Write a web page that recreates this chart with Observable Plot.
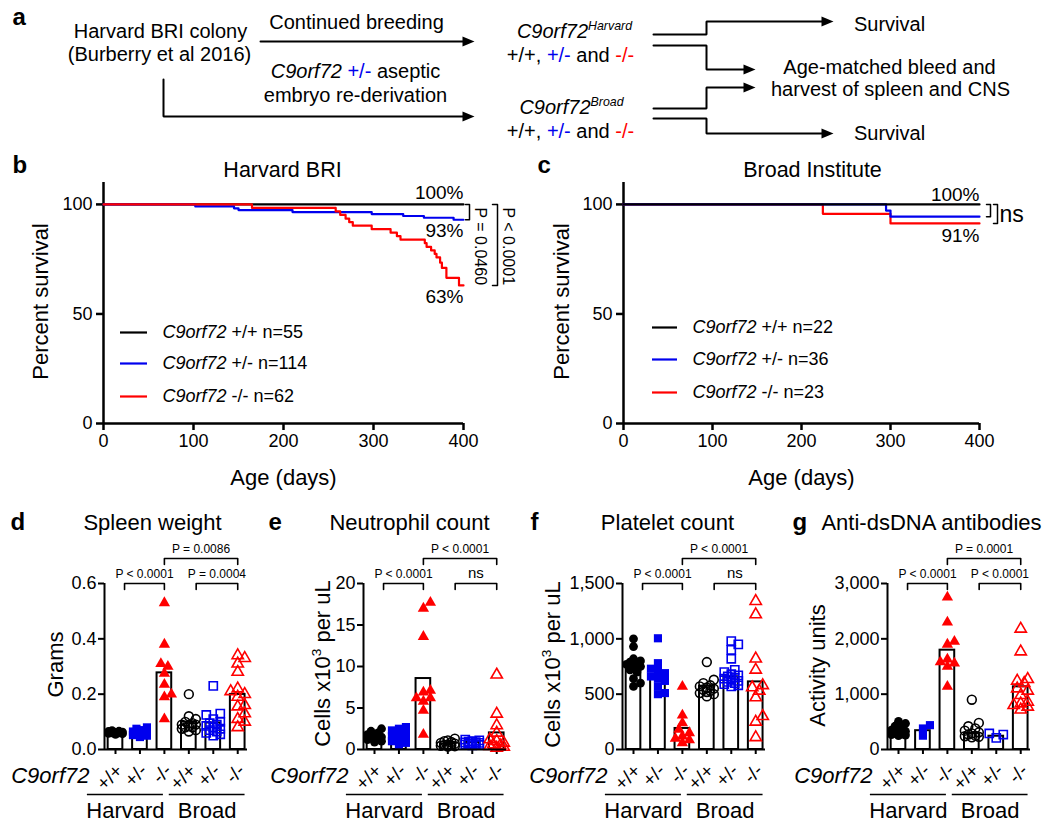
<!DOCTYPE html>
<html><head><meta charset="utf-8">
<script src="https://cdn.jsdelivr.net/npm/d3@7"></script>
<script src="https://cdn.jsdelivr.net/npm/@observablehq/plot@0.6"></script>
<style>
html,body{margin:0;padding:0;background:#fff;}
#fig{position:relative;width:1050px;height:828px;overflow:hidden;background:#fff;}
#fig svg{position:absolute;overflow:visible;}
</style></head><body><div id="fig"></div>
<script>
// ---------------- DATA ----------------
// Panel b: Harvard BRI survival (Kaplan-Meier steps)
const harvardWTDays  = [0, 400];
const harvardWTSurv  = [100, 100];
const harvardHetDays = [0, 102, 145, 150, 210, 298, 333, 356, 389, 400];
const harvardHetSurv = [100, 99.1, 98.2, 97.4, 96.5, 95.6, 94.7, 93.9, 93.0, 93.0];
const harvardKODays  = [0, 165, 258, 263, 269, 273, 277, 298, 319, 326, 330, 357, 359, 364, 368, 370, 374, 376, 381, 395, 400];
const harvardKOSurv  = [100, 98.4, 96.8, 95.2, 93.5, 91.9, 90.3, 88.7, 87.1, 85.5, 83.9, 82.3, 80.6, 79.0, 77.4, 75.8, 73.4, 71.0, 66.5, 63.0, 63.0];
const harvardLegend  = ["C9orf72 +/+ n=55", "C9orf72 +/- n=114", "C9orf72 -/- n=62"];
const harvardEndLabels = ["100%", "93%", "63%"];
const harvardPValues = ["P = 0.0460", "P < 0.0001"];

// Panel c: Broad Institute survival
const broadWTDays  = [0, 400];
const broadWTSurv  = [100, 100];
const broadHetDays = [0, 295, 300, 400];
const broadHetSurv = [100, 97.2, 94.4, 94.4];
const broadKODays  = [0, 224, 300, 400];
const broadKOSurv  = [100, 95.7, 91.3, 91.3];
const broadLegend  = ["C9orf72 +/+ n=22", "C9orf72 +/- n=36", "C9orf72 -/- n=23"];
const broadEndLabels = ["100%", "91%"];

// Panels d-g: groups
const genotypes = ["+/+", "+/-", "-/-", "+/+", "+/-", "-/-"];
const colonies  = ["Harvard", "Broad"];

const spleenPoints = [
  [0.055, 0.057, 0.058, 0.060, 0.060, 0.062, 0.063, 0.065, 0.066, 0.068],
  [0.045, 0.050, 0.052, 0.055, 0.058, 0.060, 0.062, 0.065, 0.070, 0.075, 0.080],
  [0.53, 0.38, 0.30, 0.31, 0.275, 0.235, 0.20, 0.19, 0.11],
  [0.20, 0.12, 0.11, 0.10, 0.095, 0.09, 0.09, 0.085, 0.08, 0.08, 0.075, 0.07, 0.065],
  [0.23, 0.13, 0.125, 0.11, 0.10, 0.095, 0.09, 0.085, 0.08, 0.075, 0.07, 0.065, 0.06, 0.055, 0.05],
  [0.34, 0.33, 0.31, 0.28, 0.22, 0.21, 0.20, 0.19, 0.16, 0.155, 0.13, 0.11, 0.10, 0.08]
];
const spleenBars = [0.060, 0.060, 0.277, 0.099, 0.096, 0.199];
const spleenP = ["P < 0.0001", "P = 0.0004", "P = 0.0086"];

const neutrophilPoints = [
  [2.5, 2.2, 2.0, 1.8, 1.6, 1.5, 1.4, 1.3, 1.2, 1.0, 0.9],
  [2.7, 2.5, 2.3, 2.0, 1.8, 1.6, 1.4, 1.2, 1.0, 0.8, 0.6],
  [17.7, 17.0, 13.6, 7.1, 6.9, 6.2, 6.2, 5.8, 4.7, 1.8],
  [1.3, 1.1, 1.0, 0.9, 0.8, 0.7, 0.6, 0.55, 0.5, 0.45, 0.4, 0.35],
  [1.2, 1.1, 1.0, 0.95, 0.9, 0.85, 0.8, 0.75, 0.7, 0.65, 0.6, 0.55, 0.5],
  [9.0, 4.3, 2.9, 2.0, 1.2, 1.0, 0.8, 0.6, 0.5, 0.4, 0.3, 0.2]
];
const neutrophilBars = [1.7, 1.65, 8.55, 0.65, 0.85, 2.0];
const neutrophilP = ["P < 0.0001", "ns", "P < 0.0001"];

const plateletPoints = [
  [1000, 930, 820, 800, 790, 780, 770, 760, 750, 720, 700, 640, 600, 570],
  [1005, 780, 730, 710, 690, 660, 640, 620, 570, 510, 500],
  [570, 310, 240, 180, 150, 120, 100, 85, 60],
  [790, 630, 600, 580, 570, 560, 550, 540, 530, 520, 510, 500, 480],
  [980, 950, 900, 820, 720, 700, 680, 670, 660, 650, 640, 630, 620, 610, 600, 590, 580, 570],
  [1340, 1220, 820, 720, 580, 560, 530, 470, 300, 250, 110]
];
const plateletBars = [777, 672, 190, 572, 657, 611];
const plateletP = ["P < 0.0001", "ns", "P < 0.0001"];

const dsDNAPoints = [
  [510, 470, 420, 380, 350, 330, 310, 290, 280, 270, 260, 250],
  [440, 380, 250],
  [2750, 2300, 1950, 1900, 1630, 1580, 1560, 1500, 1140],
  [900, 480, 420, 380, 340, 310, 290, 270, 250, 240, 230, 220],
  [210, 290, 270],
  [2180, 1770, 1270, 1240, 1200, 1100, 1060, 980, 860, 830, 800, 770, 720]
];
const dsDNABars = [320, 340, 1795, 290, 240, 1133];
const dsDNAP = ["P < 0.0001", "P < 0.0001", "P = 0.0001"];

// ---------------- STYLE / LAYOUT ----------------
const FONT = "'Liberation Sans', Arial, Helvetica, sans-serif";
const BLUE = "#0000ee", RED = "#ff0000", BLACK = "#000000";
const genotypeColor = [BLACK, BLUE, RED];
const groupColor  = [BLACK, BLUE, RED, BLACK, BLUE, RED];
const groupSymbol = ["circle", "square", "triangle", "circle", "square", "triangle"];
const groupFilled = [true, true, true, false, false, false];
const fig = document.getElementById("fig");
const baseStyle = {fontFamily: FONT, background: "transparent", overflow: "visible", color: "#000"};

const RICH = {
  "C9orf72 +/- aseptic": [["C9orf72", {italic: 1}], [" "], ["+/-", {fill: BLUE}], [" aseptic"]],
  "+/+, +/- and -/-": [["+/+, "], ["+/-", {fill: BLUE}], [" and "], ["-/-", {fill: RED}]],
  "C9orf72Harvard": [["C9orf72", {italic: 1}], ["Harvard", {italic: 1, sup: 1}]],
  "C9orf72Broad": [["C9orf72", {italic: 1}], ["Broad", {italic: 1, sup: 1}]],
  "Cells x103 per uL": [["Cells x10"], ["3", {sup: 1}], [" per uL"]]
};
[...harvardLegend, ...broadLegend].forEach(s => { RICH[s] = [["C9orf72", {italic: 1}], [s.slice(7)]]; });

function richify(svg) {
  d3.select(svg).selectAll("text").each(function () {
    const parts = RICH[this.textContent];
    if (!parts) return;
    const fs = parseFloat(getComputedStyle(this).fontSize) || 20;
    const el = d3.select(this);
    el.text(null);
    let shifted = 0;
    for (const [s, o = {}] of parts) {
      const t = el.append("tspan").text(s);
      if (o.italic) t.attr("font-style", "italic");
      if (o.fill) t.attr("fill", o.fill);
      if (o.sup) { t.attr("font-size", (fs * 0.62) + "px").attr("dy", -fs * 0.4); shifted = fs * 0.4; }
      else if (shifted) { t.attr("dy", shifted); shifted = 0; }
    }
  });
}
function place(svg, left, top) {
  svg.style.left = left + "px";
  svg.style.top = top + "px";
  fig.appendChild(svg);
  richify(svg);
}

// ---------------- PANEL a (flow diagram) ----------------
const diagramTexts = [
  {t: "a", x: 12, y: 24, anchor: "start", bold: true, size: 24},
  {t: "Harvard BRI colony", x: 160, y: 37},
  {t: "(Burberry et al 2016)", x: 159, y: 60},
  {t: "Continued breeding", x: 356, y: 28},
  {t: "C9orf72 +/- aseptic", x: 355, y: 77},
  {t: "embryo re-derivation", x: 355, y: 101},
  {t: "C9orf72Harvard", x: 574, y: 37},
  {t: "+/+, +/- and -/-", x: 570, y: 61},
  {t: "C9orf72Broad", x: 571, y: 113},
  {t: "+/+, +/- and -/-", x: 570, y: 137},
  {t: "Survival", x: 889, y: 30},
  {t: "Age-matched bleed and", x: 889, y: 73},
  {t: "harvest of spleen and CNS", x: 890, y: 95},
  {t: "Survival", x: 889, y: 139}
];
const connectors = [
  [[260, 41], [474, 41]],
  [[163, 79], [163, 116], [474, 116]],
  [[653, 34], [706, 34], [706, 21], [833, 21]],
  [[653, 45], [706, 45], [706, 69], [755, 69]],
  [[653, 108], [706, 108], [706, 87], [755, 87]],
  [[653, 118], [706, 118], [706, 133], [833, 133]]
];
{
  const linePts = [], headPts = [];
  connectors.forEach((c, k) => {
    c.forEach((p, j) => {
      const last = j === c.length - 1;
      linePts.push({id: k, x: last ? p[0] - 6 : p[0], y: p[1]});
    });
    const [ex, ey] = c[c.length - 1];
    headPts.push({id: k, x: ex, y: ey}, {id: k, x: ex - 12, y: ey - 5}, {id: k, x: ex - 12, y: ey + 5});
  });
  const marks = [
    Plot.line(linePts, {x: "x", y: "y", z: "id", stroke: "black", strokeWidth: 2, strokeLinejoin: "miter"}),
    Plot.line(headPts, {x: "x", y: "y", z: "id", fill: "black", stroke: "none"})
  ];
  diagramTexts.forEach(d => marks.push(Plot.text([d], {
    x: "x", y: "y", text: "t", textAnchor: d.anchor || "middle", lineAnchor: "bottom",
    fontSize: d.size || 20, fontWeight: d.bold ? "bold" : "normal"
  })));
  const svg = Plot.plot({
    width: 1050, height: 150, margin: 0, style: baseStyle,
    x: {domain: [0, 1050], range: [0, 1050], axis: null},
    y: {domain: [0, 150], range: [0, 150], axis: null},
    marks
  });
  place(svg, 0, 0);
}

// ---------------- PANELS b, c (survival) ----------------
function survivalPanel(o) {
  const top = 150, H = 345, topY = 182, bottomY = 423;
  const W = o.width;
  const mL = o.frameLeft - o.left, mR = o.left + W - o.frameRight;
  const mT = topY - top, mB = top + H - bottomY;
  const plotW = o.frameRight - o.frameLeft, plotH = bottomY - topY;
  const xu = px => px / plotW * 400;
  const yu = px => px / plotH * 110;
  const xAbs = ax => xu(ax - o.frameLeft);
  const yAbs = ay => yu(bottomY - ay);
  const at = (s, ax, ay, opt = {}) => Plot.text([s], {text: d => d, frameAnchor: "top-left", dx: ax - o.frameLeft, dy: ay - topY, textAnchor: "middle", lineAnchor: "bottom", ...opt});
  const marks = [
    Plot.axisX({ticks: [0, 100, 200, 300, 400], tickSize: 7, tickPadding: 4, fontSize: 18, strokeWidth: 2.5, label: null}),
    Plot.axisY({ticks: [0, 50, 100], tickSize: 7, tickPadding: 4, fontSize: 18, strokeWidth: 2.5, label: null}),
    Plot.ruleX([0], {y1: 0, y2: 110, strokeWidth: 2.5}),
    Plot.ruleY([0], {x1: 0, x2: 400, strokeWidth: 2.5})
  ];
  o.series.forEach(s => marks.push(Plot.line(s.days.map((d, i) => ({d, v: s.surv[i]})),
    {x: "d", y: "v", curve: "step-after", stroke: s.color, strokeWidth: 2.2})));
  // end percentages
  o.ends.forEach(e => marks.push(Plot.text([e.text], {text: d => d, x: 400, y: e.value, dy: e.dy, textAnchor: "end", lineAnchor: "bottom", fontSize: 19})));
  // brackets
  o.brackets.forEach(b => {
    const x0 = 400 + xu(b.x0), x1 = 400 + xu(b.x1);
    marks.push(Plot.line([[x0, b.v1], [x1, b.v1], [x1, b.v2], [x0, b.v2]], {x: d => d[0], y: d => d[1], stroke: "black", strokeWidth: 1.5}));
    if (b.label) marks.push(Plot.text([b.label], {text: d => d, x: 400 + xu(b.lx), y: yAbs(b.ly), rotate: 90, textAnchor: "start", lineAnchor: "middle", fontSize: 16}));
  });
  if (o.ns) marks.push(at("ns", o.ns[0], o.ns[1], {textAnchor: "start", fontSize: 23}));
  // legend
  o.legend.forEach((s, i) => {
    const ly = o.legendY[i];
    marks.push(Plot.ruleY([yAbs(ly)], {x1: xAbs(o.legendX[0]), x2: xAbs(o.legendX[1]), stroke: genotypeColor[i], strokeWidth: 2.2}));
    marks.push(at(s, o.legendX[2], ly, {textAnchor: "start", lineAnchor: "middle", fontSize: 18}));
  });
  // labels
  marks.push(at(o.letter, o.letterX, 172, {textAnchor: "start", fontSize: 24, fontWeight: "bold"}));
  marks.push(at(o.title, o.titleX, 176, {fontSize: 21.5}));
  marks.push(at("Percent survival", o.yLabelX, 301, {rotate: -90, lineAnchor: "middle", fontSize: 22}));
  marks.push(at("Age (days)", (o.frameLeft + o.frameRight) / 2, 484, {fontSize: 22}));
  const svg = Plot.plot({
    width: W, height: H, marginLeft: mL, marginRight: mR, marginTop: mT, marginBottom: mB,
    style: baseStyle,
    x: {domain: [0, 400]}, y: {domain: [0, 110]},
    marks
  });
  place(svg, o.left, top);
}

survivalPanel({
  left: 0, width: 520, frameLeft: 103, frameRight: 463,
  letter: "b", letterX: 12, title: "Harvard BRI", titleX: 282, yLabelX: 40,
  series: [
    {days: harvardWTDays, surv: harvardWTSurv, color: BLACK},
    {days: harvardHetDays, surv: harvardHetSurv, color: BLUE},
    {days: harvardKODays, surv: harvardKOSurv, color: RED}
  ],
  ends: [
    {text: harvardEndLabels[0], value: harvardWTSurv.at(-1), dy: -5},
    {text: harvardEndLabels[1], value: harvardHetSurv.at(-1), dy: 17},
    {text: harvardEndLabels[2], value: harvardKOSurv.at(-1), dy: 18}
  ],
  brackets: [
    {x0: 2, x1: 6, v1: harvardWTSurv.at(-1), v2: harvardHetSurv.at(-1), label: harvardPValues[0], lx: 17, ly: 207},
    {x0: 29, x1: 34, v1: harvardWTSurv.at(-1), v2: harvardKOSurv.at(-1), label: harvardPValues[1], lx: 45, ly: 207}
  ],
  legend: harvardLegend, legendX: [120, 147, 162], legendY: [332, 363, 396]
});

survivalPanel({
  left: 520, width: 530, frameLeft: 623, frameRight: 979,
  letter: "c", letterX: 537, title: "Broad Institute", titleX: 812, yLabelX: 561,
  series: [
    {days: broadKODays, surv: broadKOSurv, color: RED},
    {days: broadHetDays, surv: broadHetSurv, color: BLUE},
    {days: broadWTDays, surv: broadWTSurv, color: BLACK}
  ],
  ends: [
    {text: broadEndLabels[0], value: broadWTSurv.at(-1), dy: -3},
    {text: broadEndLabels[1], value: broadKOSurv.at(-1), dy: 19}
  ],
  brackets: [
    {x0: 7, x1: 11, v1: broadWTSurv.at(-1), v2: broadHetSurv.at(-1)},
    {x0: 14, x1: 18, v1: broadWTSurv.at(-1), v2: broadKOSurv.at(-1)}
  ],
  ns: [999, 221],
  legend: broadLegend, legendX: [652, 677, 692], legendY: [327, 359, 392]
});

// ---------------- PANELS d-g (bar + scatter) ----------------
function swarm(vals, pxPerVal, diam, maxOff) {
  const order = vals.map((v, i) => i).sort((a, b) => vals[a] - vals[b]);
  const placed = [], off = new Array(vals.length).fill(0);
  const cands = [0];
  for (let k = 1; k * diam * 0.5 <= maxOff; k++) cands.push(k * diam * 0.5, -k * diam * 0.5);
  for (const i of order) {
    const y = vals[i] * pxPerVal;
    let best = 0, bestScore = -Infinity;
    for (const c of cands) {
      let minD = Infinity;
      for (const p of placed) minD = Math.min(minD, Math.hypot(p.x - c, p.y - y));
      if (minD >= diam) { best = c; break; }
      if (minD > bestScore) { bestScore = minD; best = c; }
    }
    off[i] = best;
    placed.push({x: best, y});
  }
  return off;
}

function barPanel(o) {
  const top = 495, H = 333, mL = 103, mT = 88, mB = 79, plotW = 143, plotH = 166;
  const W = o.width, mR = W - mL - plotW;
  const xDom = [-0.45, 5.4];
  const unitPx = plotW / (xDom[1] - xDom[0]);
  const yMax = o.yMax;
  const yu = px => px * yMax / plotH;
  const frameX = o.left + mL, frameY = top + mT;
  const at = (s, ax, ay, opt = {}) => Plot.text([s], {text: d => d, frameAnchor: "top-left", dx: ax - frameX, dy: ay - frameY, textAnchor: "middle", lineAnchor: "bottom", ...opt});
  const marks = [
    Plot.axisY({ticks: o.ticks, tickFormat: o.fmt, tickSize: 6, tickPadding: 2, fontSize: 18, strokeWidth: 2, label: null}),
    Plot.axisX({ticks: [0, 1, 2, 3, 4, 5], tickFormat: () => "", tickSize: 5, strokeWidth: 2, label: null}),
    Plot.rectY(o.bars, {x1: (d, i) => i - 0.3, x2: (d, i) => i + 0.3, y: d => d, fill: "white", stroke: "black", strokeWidth: 2})
  ];
  o.points.forEach((vals, i) => {
    const offs = swarm(vals, plotH / yMax, 7, 10);
    const filled = groupFilled[i];
    marks.push(Plot.dot(vals, {
      x: (d, j) => i + offs[j] / unitPx, y: d => d,
      symbol: groupSymbol[i], r: groupSymbol[i] === "square" ? 4.6 : groupSymbol[i] === "triangle" ? 4.2 : 4.4,
      fill: filled ? groupColor[i] : "none", stroke: filled ? "none" : groupColor[i], strokeWidth: 1.6
    }));
  });
  marks.push(Plot.ruleX([xDom[0]], {y1: 0, y2: yMax, strokeWidth: 2}));
  marks.push(Plot.ruleY([0], {x1: xDom[0], x2: xDom[1], strokeWidth: 2}));
  // significance brackets
  const spans = [[0.37, 2, 0], [3.3, 5, 0], [2, 5, 1]];
  spans.forEach(([a, b, level], k) => {
    const yb = yMax + yu(level * 25);
    const yt = yb - yu(6);
    marks.push(Plot.line([[a, yt], [a, yb], [b, yb], [b, yt]], {x: d => d[0], y: d => d[1], stroke: "black", strokeWidth: 1.6}));
    const lab = o.pvals[k];
    marks.push(Plot.text([lab], {text: d => d, x: (a + b) / 2, y: yb, dy: -6, lineAnchor: "bottom", fontSize: lab === "ns" ? 15 : 12}));
  });
  // category labels
  marks.push(Plot.text(genotypes, {x: (d, i) => i, y: 0, text: d => d, rotate: -45, textAnchor: "end", lineAnchor: "middle", dx: 4, dy: 18, fontSize: 19}));
  marks.push(Plot.text(["C9orf72"], {text: d => d, x: xDom[0], y: 0, dx: -15, dy: 33, textAnchor: "end", lineAnchor: "bottom", fontSize: 22, fontStyle: "italic"}));
  const colonySpans = [[-1.15, 1.96], [2.2, 5.3]];
  marks.push(Plot.ruleY(colonies, {x1: (d, i) => colonySpans[i][0], x2: (d, i) => colonySpans[i][1], y: () => 0, dy: 45, strokeWidth: 1.6}));
  marks.push(Plot.text(colonies, {text: d => d, x: (d, i) => (colonySpans[i][0] + colonySpans[i][1]) / 2, y: () => 0, dy: 68, lineAnchor: "bottom", fontSize: 22}));
  // titles
  marks.push(at(o.letter, o.letterX, 529, {textAnchor: "start", fontSize: 24, fontWeight: "bold"}));
  marks.push(at(o.title, o.titleX, 529, {fontSize: 22}));
  marks.push(at(o.yLabel, o.yLabelX, o.yLabelY, {rotate: -90, lineAnchor: "middle", fontSize: 22}));
  const svg = Plot.plot({
    width: W, height: H, marginLeft: mL, marginRight: mR, marginTop: mT, marginBottom: mB,
    style: baseStyle,
    x: {domain: xDom}, y: {domain: [0, yMax]},
    marks
  });
  place(svg, o.left, top);
}

barPanel({left: 1, width: 259, letter: "d", letterX: 10, title: "Spleen weight", titleX: 152,
  yLabel: "Grams", yLabelX: 55, yLabelY: 664, yMax: 0.6, ticks: [0, 0.2, 0.4, 0.6], fmt: d3.format(".1f"),
  points: spleenPoints, bars: spleenBars, pvals: spleenP});
barPanel({left: 260, width: 259, letter: "e", letterX: 268, title: "Neutrophil count", titleX: 409,
  yLabel: "Cells x103 per uL", yLabelX: 322, yLabelY: 663, yMax: 20, ticks: [0, 5, 10, 15, 20], fmt: d3.format("d"),
  points: neutrophilPoints, bars: neutrophilBars, pvals: neutrophilP});
barPanel({left: 519, width: 265, letter: "f", letterX: 530, title: "Platelet count", titleX: 667,
  yLabel: "Cells x103 per uL", yLabelX: 552, yLabelY: 664, yMax: 1500, ticks: [0, 500, 1000, 1500], fmt: d3.format(","),
  points: plateletPoints, bars: plateletBars, pvals: plateletP});
barPanel({left: 784, width: 266, letter: "g", letterX: 792, title: "Anti-dsDNA antibodies", titleX: 931,
  yLabel: "Activity units", yLabelX: 817, yLabelY: 665, yMax: 3000, ticks: [0, 1000, 2000, 3000], fmt: d3.format(","),
  points: dsDNAPoints, bars: dsDNABars, pvals: dsDNAP});
</script></body></html>
